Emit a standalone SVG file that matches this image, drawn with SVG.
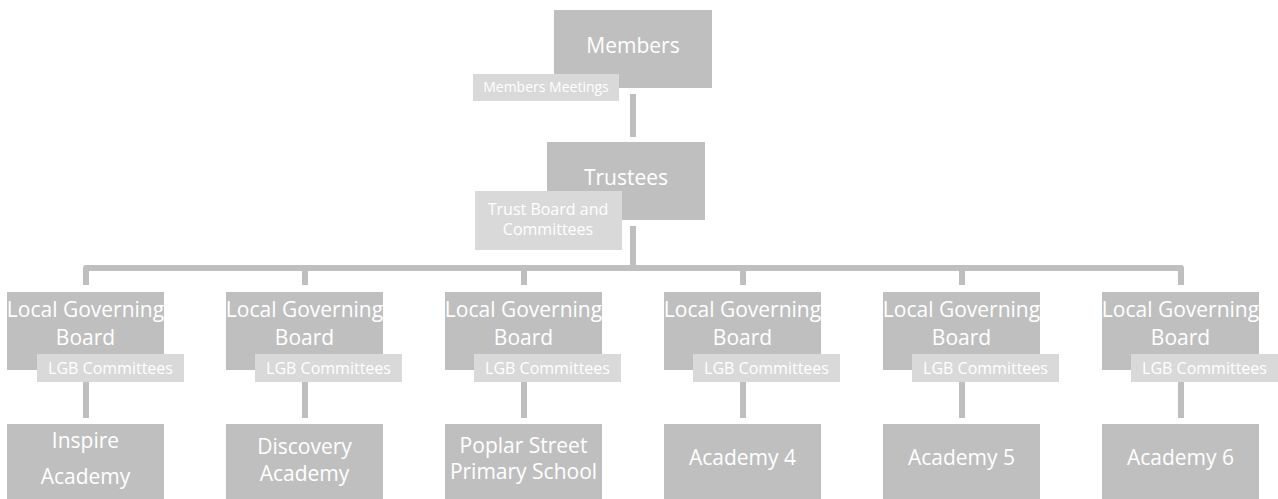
<svg xmlns="http://www.w3.org/2000/svg" width="1278" height="499" viewBox="0 0 1278 499">
<style>
.box{fill:#bfbfbf}
.sub{fill:#d9d9d9}
.t{fill:#ffffff;font-family:"Open Sans","Liberation Sans",sans-serif;text-anchor:middle}
.big{font-size:21px}
.sm{font-size:16px}
.xs{font-size:14px}
.c{fill:none;stroke:#bfbfbf;stroke-width:6;stroke-linejoin:round}
</style>
<rect width="1278" height="499" fill="#ffffff"/>
<g id="connectors">
<path class="c" d="M633 94V137M633 226V268M86 285V268H1181V285"/>
<path class="c" d="M305 285V268M524 285V268M743 285V268M962 285V268"/>
<path class="c" d="M86 382V418M305 382V418M524 382V418M743 382V418M962 382V418M1181 382V418"/>
</g>
<g id="members">
<rect class="box" x="554" y="10" width="158" height="78"/>
<text class="t big" x="633" y="53">Members</text>
<rect class="sub" x="473" y="74" width="146" height="27"/>
<text class="t xs" x="546" y="92">Members Meetings</text>
</g>
<g id="trustees">
<rect class="box" x="547" y="142" width="158" height="78"/>
<text class="t big" x="626" y="185">Trustees</text>
<rect class="sub" x="475" y="191" width="147" height="59"/>
<text class="t sm" x="548" y="215">Trust Board and</text>
<text class="t sm" x="548" y="235">Committees</text>
</g>
<g id="lgb1"><rect class="box" x="7" y="292" width="157" height="78"/><text class="t big" x="85.5" y="317">Local Governing</text><text class="t big" x="85.5" y="345">Board</text><rect class="sub" x="37" y="354" width="147" height="28"/><text class="t sm" x="110.5" y="374">LGB Committees</text></g>
<g id="lgb2"><rect class="box" x="226" y="292" width="157" height="78"/><text class="t big" x="304.5" y="317">Local Governing</text><text class="t big" x="304.5" y="345">Board</text><rect class="sub" x="255" y="354" width="147" height="28"/><text class="t sm" x="328.5" y="374">LGB Committees</text></g>
<g id="lgb3"><rect class="box" x="445" y="292" width="157" height="78"/><text class="t big" x="523.5" y="317">Local Governing</text><text class="t big" x="523.5" y="345">Board</text><rect class="sub" x="474" y="354" width="147" height="28"/><text class="t sm" x="547.5" y="374">LGB Committees</text></g>
<g id="lgb4"><rect class="box" x="664" y="292" width="157" height="78"/><text class="t big" x="742.5" y="317">Local Governing</text><text class="t big" x="742.5" y="345">Board</text><rect class="sub" x="693" y="354" width="147" height="28"/><text class="t sm" x="766.5" y="374">LGB Committees</text></g>
<g id="lgb5"><rect class="box" x="883" y="292" width="157" height="78"/><text class="t big" x="961.5" y="317">Local Governing</text><text class="t big" x="961.5" y="345">Board</text><rect class="sub" x="912" y="354" width="147" height="28"/><text class="t sm" x="985.5" y="374">LGB Committees</text></g>
<g id="lgb6"><rect class="box" x="1102" y="292" width="157" height="78"/><text class="t big" x="1180.5" y="317">Local Governing</text><text class="t big" x="1180.5" y="345">Board</text><rect class="sub" x="1131" y="354" width="147" height="28"/><text class="t sm" x="1204.5" y="374">LGB Committees</text></g>
<g id="academy1"><rect class="box" x="7" y="424" width="157" height="76"/><text class="t big" x="85.5" y="448">Inspire</text><text class="t big" x="85.5" y="484">Academy</text></g>
<g id="academy2"><rect class="box" x="226" y="424" width="157" height="76"/><text class="t big" x="304.5" y="454">Discovery</text><text class="t big" x="304.5" y="481">Academy</text></g>
<g id="academy3"><rect class="box" x="445" y="424" width="157" height="76"/><text class="t big" x="523.5" y="453">Poplar Street</text><text class="t big" x="523.5" y="479">Primary School</text></g>
<g id="academy4"><rect class="box" x="664" y="424" width="157" height="76"/><text class="t big" x="742.5" y="465">Academy 4</text></g>
<g id="academy5"><rect class="box" x="883" y="424" width="157" height="76"/><text class="t big" x="961.5" y="465">Academy 5</text></g>
<g id="academy6"><rect class="box" x="1102" y="424" width="157" height="76"/><text class="t big" x="1180.5" y="465">Academy 6</text></g>
</svg>
